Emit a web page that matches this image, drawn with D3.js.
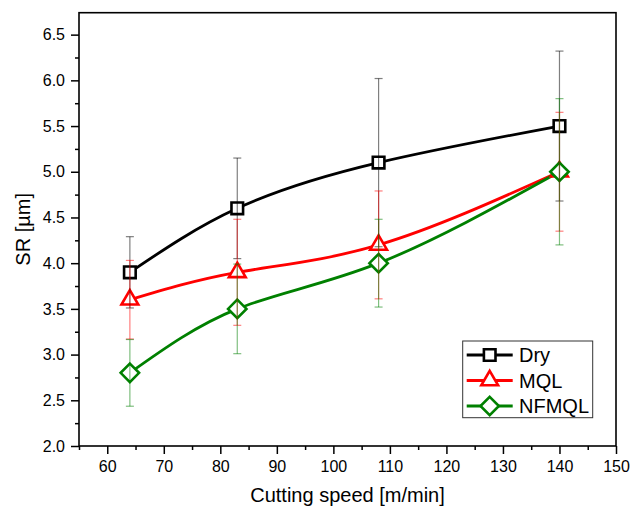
<!DOCTYPE html>
<html><head><meta charset="utf-8">
<script src="https://cdn.jsdelivr.net/npm/d3@7"></script>
<style>body{margin:0;background:#fff} svg{display:block} text{font-family:Arial,"Liberation Sans",sans-serif}</style>
</head><body><svg width="631" height="511"></svg>
<script>
// ---- data ----
const speeds = [64, 83, 108, 140];
const seriesNames = ["Dry", "MQL", "NFMQL"];
const dryValues = [3.9, 4.6, 5.1, 5.5];
const dryErrors = [0.39, 0.55, 0.92, 0.82];
const mqlValues = [3.6, 3.9, 4.2, 5.0];
const mqlErrors = [0.43, 0.58, 0.59, 0.65];
const nfmqlValues = [2.8, 3.5, 4.0, 5.0];
const nfmqlErrors = [0.365, 0.49, 0.48, 0.8];
const xTickValues = [60, 70, 80, 90, 100, 110, 120, 130, 140, 150];
const xMinorTicks = [55, 65, 75, 85, 95, 105, 115, 125, 135, 145];
const yTickValues = [2.0, 2.5, 3.0, 3.5, 4.0, 4.5, 5.0, 5.5, 6.0, 6.5];
const yMinorTicks = [2.25, 2.75, 3.25, 3.75, 4.25, 4.75, 5.25, 5.75, 6.25];
const xTitle = "Cutting speed [m/min]";
const yTitle = "SR [\u00b5m]";

const colors = {Dry: "#000000", MQL: "#ff0000", NFMQL: "#008000"};
const shapes = {Dry: "square", MQL: "triangle", NFMQL: "diamond"};
const series = [
  {name: "Dry", values: dryValues, errors: dryErrors},
  {name: "MQL", values: mqlValues, errors: mqlErrors},
  {name: "NFMQL", values: nfmqlValues, errors: nfmqlErrors}
];

const svg = d3.select("svg");
const L = 79, R = 616, T = 12.7, B = 446;
const x = d3.scaleLinear().domain([55, 150]).range([L, R]);
const y = d3.scaleLinear().domain([2, 6.74]).range([B, T]);

function symbolPath(shape) {
  if (shape === "square") { const s = 5.8; return `M${-s},${-s}H${s}V${s}H${-s}Z`; }
  if (shape === "triangle") { return `M0,-9.6L8.4,4.8L-8.4,4.8Z`; }
  const d = 9.2; return `M0,${-d}L${d},0L0,${d}L${-d},0Z`;
}

// axes
const fontSize = 16;
const xAxis = svg.append("g").attr("transform", `translate(0,${B})`)
  .call(d3.axisBottom(x).tickValues(xTickValues).tickSize(8).tickSizeOuter(0).tickPadding(7).tickFormat(d3.format("d")));
const xMinor = svg.append("g").attr("transform", `translate(0,${B})`)
  .call(d3.axisBottom(x).tickValues(xMinorTicks).tickSize(4).tickSizeOuter(0).tickFormat(""));
const yAxis = svg.append("g").attr("transform", `translate(${L},0)`)
  .call(d3.axisLeft(y).tickValues(yTickValues).tickSize(8).tickSizeOuter(0).tickPadding(6).tickFormat(d3.format(".1f")));
const yMinor = svg.append("g").attr("transform", `translate(${L},0)`)
  .call(d3.axisLeft(y).tickValues(yMinorTicks).tickSize(4).tickSizeOuter(0).tickFormat(""));
[xAxis, xMinor, yAxis, yMinor].forEach(g => {
  g.select(".domain").remove();
  g.selectAll("line").attr("stroke", "#000").attr("stroke-width", 1.5);
  g.selectAll("text").attr("font-size", fontSize).attr("fill", "#000").attr("font-family", "Arial, 'Liberation Sans', sans-serif");
});

// frame
svg.append("rect").attr("x", L).attr("y", T).attr("width", R - L).attr("height", B - T)
  .attr("fill", "none").attr("stroke", "#000").attr("stroke-width", 1.6);

// titles
svg.append("text").attr("x", (L + R) / 2).attr("y", 502).attr("text-anchor", "middle")
  .attr("font-size", 20).text(xTitle);
svg.append("text").attr("transform", `translate(30,${(T + B) / 2}) rotate(-90)`).attr("text-anchor", "middle")
  .attr("font-size", 20).text(yTitle);

// lines
const line = d3.line().x(d => x(d[0])).y(d => y(d[1])).curve(d3.curveNatural);
const plot = svg.append("g");
series.forEach(s => {
  plot.append("path").datum(speeds.map((sp, i) => [sp, s.values[i]]))
    .attr("d", line).attr("fill", "none").attr("stroke", colors[s.name]).attr("stroke-width", 2.8);
});
// markers
series.forEach(s => {
  plot.selectAll(null).data(speeds.map((sp, i) => [sp, s.values[i]])).enter().append("path")
    .attr("transform", d => `translate(${x(d[0])},${y(d[1])})`)
    .attr("d", symbolPath(shapes[s.name]))
    .attr("fill", "#fff").attr("stroke", colors[s.name]).attr("stroke-width", 2.6);
});
// error bars
series.forEach(s => {
  const g = plot.append("g").attr("stroke", colors[s.name]).attr("stroke-opacity", 0.5).attr("stroke-width", 1.2);
  speeds.forEach((sp, i) => {
    const cx = x(sp), y1 = y(s.values[i] + s.errors[i]), y0 = y(s.values[i] - s.errors[i]);
    g.append("line").attr("x1", cx).attr("x2", cx).attr("y1", y1).attr("y2", y0);
    g.append("line").attr("x1", cx - 4).attr("x2", cx + 4).attr("y1", y1).attr("y2", y1);
    g.append("line").attr("x1", cx - 4).attr("x2", cx + 4).attr("y1", y0).attr("y2", y0);
  });
});

// legend
const lg = svg.append("g");
lg.append("rect").attr("x", 462.7).attr("y", 341).attr("width", 130).attr("height", 76.7)
  .attr("fill", "#fff").attr("stroke", "#333").attr("stroke-width", 1);
seriesNames.forEach((n, i) => {
  const cy = 355 + i * 25.5;
  lg.append("line").attr("x1", 466.7).attr("x2", 512.7).attr("y1", cy).attr("y2", cy)
    .attr("stroke", colors[n]).attr("stroke-width", 2.8);
  lg.append("path").attr("transform", `translate(489.7,${cy})`).attr("d", symbolPath(shapes[n]))
    .attr("fill", "#fff").attr("stroke", colors[n]).attr("stroke-width", 2.6);
  lg.append("text").attr("x", 519).attr("y", cy + 7).attr("font-size", 20).text(n);
});
</script></body></html>
